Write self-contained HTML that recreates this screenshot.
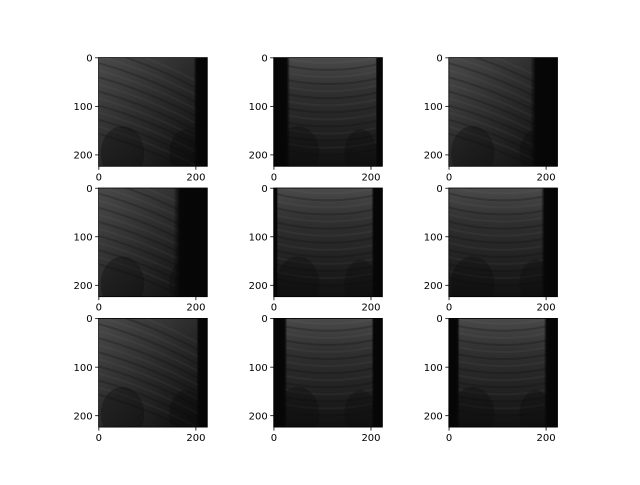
<!DOCTYPE html>
<html><head><meta charset="utf-8"><style>
html,body{margin:0;padding:0;background:#fff;}
svg text{font-family:"DejaVu Sans","Liberation Sans",sans-serif;font-size:10px;fill:#000;}
</style></head><body>
<svg id="fig" width="640" height="480" viewBox="0 0 640 480">
<defs>
<linearGradient id="topglow" x1="0" y1="0" x2="0" y2="1">
<stop offset="0" stop-color="#4a4a4a"/><stop offset="0.3" stop-color="#303030"/><stop offset="0.65" stop-color="#222"/><stop offset="1" stop-color="#111"/>
</linearGradient>
<linearGradient id="diag" x1="0" y1="0" x2="1" y2="1">
<stop offset="0" stop-color="#4a4a4a"/><stop offset="0.45" stop-color="#2c2c2c"/><stop offset="1" stop-color="#0a0a0a"/>
</linearGradient>
<linearGradient id="blackL" x1="0" y1="0" x2="1" y2="0"><stop offset="0" stop-color="#050505"/><stop offset="0.8" stop-color="#070707"/><stop offset="1" stop-color="#080808" stop-opacity="0"/></linearGradient>
<linearGradient id="blackR" x1="1" y1="0" x2="0" y2="0"><stop offset="0" stop-color="#050505"/><stop offset="0.8" stop-color="#070707"/><stop offset="1" stop-color="#080808" stop-opacity="0"/></linearGradient>
</defs>
</svg>
<script>
const xTicks = [0, 200];
const yTicks = [0, 100, 200];
const imgSize = [224, 224];
const panelLeft  = [0.0, 0.12, 0.0, 0.0, 0.03, 0.0, 0.0, 0.1, 0.08];
const panelRight = [0.1, 0.05, 0.2, 0.25, 0.08, 0.12, 0.08, 0.08, 0.1];
const panelStyle = [0, 1, 0, 0, 1, 1, 0, 1, 1];

const svg = document.getElementById('fig');
const NS = 'http://www.w3.org/2000/svg';
function mk(tag, attrs, parent){const e=document.createElementNS(NS,tag);for(const k in attrs)e.setAttribute(k,attrs[k]);(parent||svg).appendChild(e);return e;}

const side = 108.7;
const colX = [98.6, 273.7, 448.8];
const rowY = [57.6, 188.0, 318.4];
const sc = side / imgSize[0];
function xs(x0, v){return x0 + (v + 0.5) * sc;}
function ys(y0, v){return y0 + (v + 0.5) * sc;}

for (let r=0;r<3;r++) for (let c=0;c<3;c++){
  const i=r*3+c, x0=colX[c], y0=rowY[r];
  const g=mk('g',{});
  
  
  const cp='cp'+i;
  const clip=mk('clipPath',{id:cp},g); mk('rect',{x:x0,y:y0,width:side,height:side},clip);
  const ig=mk('g',{'clip-path':'url(#'+cp+')'},g);
  mk('rect',{x:x0,y:y0,width:side,height:side,fill:panelStyle[i]?'url(#topglow)':'url(#diag)'},ig);
  for(let k=0;k<14;k++){
    const yy=y0+side*(0.04+k*0.065);
    let d;
    if(panelStyle[i]) d=`M${x0} ${yy-6} Q${x0+side/2} ${yy+8} ${x0+side} ${yy-6}`;
    else d=`M${x0} ${yy-20} Q${x0+side*0.5} ${yy-5} ${x0+side} ${yy+25}`;
    mk('path',{d:d,stroke:k%2?'#0a0a0a':'#888',"stroke-opacity":k%2?0.25:0.08,'stroke-width':2,fill:'none'},ig);
  }
  mk('ellipse',{cx:x0+side*0.22,cy:y0+side*0.88,rx:side*0.2,ry:side*0.25,fill:'#0c0c0c',opacity:0.35},ig);
  mk('ellipse',{cx:x0+side*0.8,cy:y0+side*0.88,rx:side*0.15,ry:side*0.22,fill:'#0c0c0c',opacity:0.35},ig);
  if(panelLeft[i]>0) mk('rect',{x:x0,y:y0,width:side*panelLeft[i]*1.25,height:side,fill:'url(#blackL)'},ig);
  if(panelRight[i]>0) mk('rect',{x:x0+side*(1-panelRight[i]*1.25),y:y0,width:side*panelRight[i]*1.25,height:side,fill:'url(#blackR)'},ig);
  mk('rect',{x:x0,y:y0,width:side,height:side,fill:'none',stroke:'#000','stroke-width':0.8},g);
  xTicks.forEach(v=>{const x=xs(x0,v);
    mk('line',{x1:x,y1:y0+side,x2:x,y2:y0+side+3.5,stroke:'#000','stroke-width':0.8},g);
    const t=mk('text',{x:x,y:y0+side+14,'text-anchor':'middle'},g);t.textContent=v;
    
    });
  yTicks.forEach(v=>{const y=ys(y0,v);
    mk('line',{x1:x0-3.5,y1:y,x2:x0,y2:y,stroke:'#000','stroke-width':0.8},g);
    const t=mk('text',{x:x0-6,y:y+3.6,'text-anchor':'end'},g);t.textContent=v;
    
    });
}
</script>
</body></html>
